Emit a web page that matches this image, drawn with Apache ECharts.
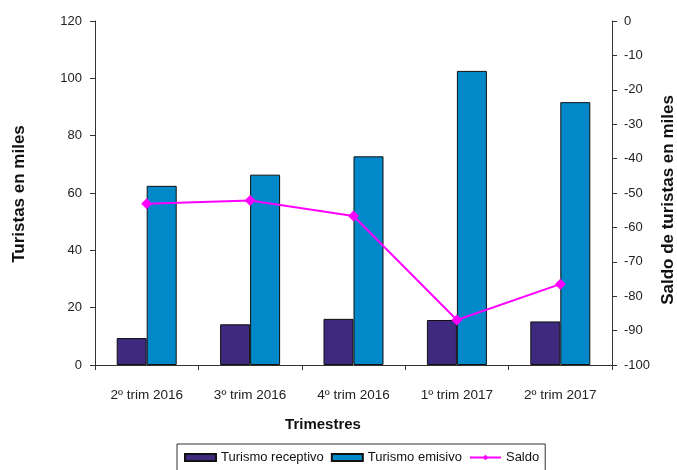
<!DOCTYPE html>
<html><head><meta charset="utf-8">
<script src="https://cdn.jsdelivr.net/npm/echarts@6/dist/echarts.min.js"></script>
<style>html,body{margin:0;padding:0;background:#fff}#c{width:677px;height:470px}</style>
</head><body><div id="c"></div>
<script>
const categories = ['2º trim 2016', '3º trim 2016', '4º trim 2016', '1º trim 2017', '2º trim 2017'];
const receptivo = [9.4, 14.2, 16.1, 15.7, 15.2];
const emisivo = [62.5, 66.4, 72.8, 102.6, 91.7];
const saldo = [-53.1, -52.2, -56.7, -86.9, -76.5];
const leftTicks = {min: 0, max: 120, interval: 20};
const rightTicks = {min: -100, max: 0, interval: 10};

const font = 'Liberation Sans, Arial, sans-serif';
const chart = echarts.init(document.getElementById('c'), null, {renderer: 'canvas'});
const axisLine = {show: true, lineStyle: {color: '#333', width: 1}};
const titleStyle = {fontFamily: font, fontSize: 17, fontWeight: 'bold', fill: '#111', align: 'center', verticalAlign: 'middle'};
chart.setOption({
  animation: false,
  textStyle: {fontFamily: font},
  grid: {left: 95, right: 65, top: 21, bottom: 105, containLabel: false},
  graphic: [
    {type: 'text', x: 19, y: 194, rotation: Math.PI / 2, style: Object.assign({text: 'Turistas en miles'}, titleStyle)},
    {type: 'text', x: 668, y: 200, rotation: Math.PI / 2, style: Object.assign({text: 'Saldo de turistas en miles'}, titleStyle)},
    {type: 'text', x: 323, y: 425, style: Object.assign({}, titleStyle, {text: 'Trimestres', fontSize: 15})}
  ],
  legend: {
    left: 177, top: 444,
    borderColor: '#333', borderWidth: 1, padding: [7, 6, 10, 7],
    itemGap: 7, itemWidth: 31, itemHeight: 7,
    textStyle: {fontFamily: font, fontSize: 13, color: '#111'},
    data: [
      {name: 'Turismo receptivo', icon: 'rect'},
      {name: 'Turismo emisivo', icon: 'rect'},
      {name: 'Saldo'}
    ]
  },
  xAxis: {
    type: 'category', data: categories,
    axisLine: axisLine,
    axisTick: {show: true, length: 5, interval: 0, lineStyle: {color: '#333'}},
    axisLabel: {fontFamily: font, fontSize: 13.5, color: '#222', margin: 23, interval: 0}
  },
  yAxis: [
    {
      type: 'value', min: leftTicks.min, max: leftTicks.max, interval: leftTicks.interval,
      axisLine: axisLine,
      axisTick: {show: true, length: 5, lineStyle: {color: '#333'}},
      axisLabel: {fontFamily: font, fontSize: 13, color: '#222', margin: 13},
      splitLine: {show: false}
    },
    {
      type: 'value', min: rightTicks.min, max: rightTicks.max, interval: rightTicks.interval,
      axisLine: axisLine,
      axisTick: {show: true, length: 5, lineStyle: {color: '#333'}},
      axisLabel: {fontFamily: font, fontSize: 13, color: '#222', margin: 12},
      splitLine: {show: false}
    }
  ],
  series: [
    {
      name: 'Turismo receptivo', type: 'bar', data: receptivo, yAxisIndex: 0,
      barWidth: 30, barGap: '0%',
      itemStyle: {color: '#3d2a7f', borderColor: '#111', borderWidth: 1}
    },
    {
      name: 'Turismo emisivo', type: 'bar', data: emisivo, yAxisIndex: 0,
      barWidth: 30, barGap: '0%',
      itemStyle: {color: '#0088c8', borderColor: '#111', borderWidth: 1}
    },
    {
      name: 'Saldo', type: 'line', data: saldo, yAxisIndex: 1,
      symbol: 'diamond', symbolSize: 11,
      lineStyle: {color: '#ff00ff', width: 2},
      itemStyle: {color: '#ff00ff'}
    }
  ]
});
</script></body></html>
